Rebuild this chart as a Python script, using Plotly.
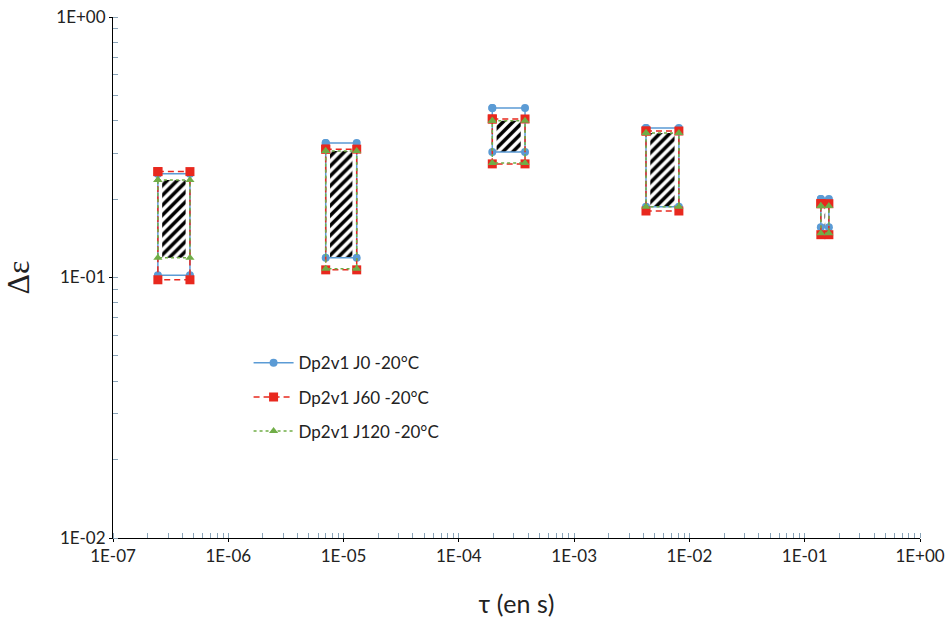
import plotly.graph_objects as go

# Relaxation time bounds (s) for the 5 groups
tau_left = [2.45e-7, 7.0e-6, 1.95e-4, 4.2e-3, 0.138]
tau_right = [4.65e-7, 1.3e-5, 3.75e-4, 8.1e-3, 0.162]

# Delta epsilon bounds per series
j0_low = [0.102, 0.119, 0.303, 0.187, 0.156]
j0_high = [0.250, 0.328, 0.447, 0.375, 0.200]
j60_low = [0.098, 0.107, 0.273, 0.180, 0.146]
j60_high = [0.255, 0.311, 0.406, 0.365, 0.192]
j120_low = [0.119, 0.108, 0.275, 0.187, 0.148]
j120_high = [0.237, 0.306, 0.400, 0.359, 0.188]

series_names = ["Dp2v1 J0 -20°C", "Dp2v1 J60 -20°C", "Dp2v1 J120 -20°C"]
x_tickvals = [1e-7, 1e-6, 1e-5, 1e-4, 1e-3, 1e-2, 1e-1, 1e0]
x_ticktext = ["1E-07", "1E-06", "1E-05", "1E-04", "1E-03", "1E-02", "1E-01", "1E+00"]
y_tickvals = [1e-2, 1e-1, 1e0]
y_ticktext = ["1E-02", "1E-01", "1E+00"]


def rect_path(xl, xr, lo, hi):
    xs, ys = [], []
    for a, b, l, h in zip(xl, xr, lo, hi):
        xs += [a, b, b, a, a, None]
        ys += [h, h, l, l, h, None]
    return xs, ys


fig = go.Figure()

# Hatched intersection regions
hx, hy = [], []
inset = 1.09
for i in range(len(tau_left)):
    lo = max(j0_low[i], j60_low[i], j120_low[i])
    hi = min(j0_high[i], j60_high[i], j120_high[i])
    a = tau_left[i] * inset
    b = tau_right[i] / inset
    hx += [a, b, b, a, a, None]
    hy += [hi, hi, lo, lo, hi, None]
fig.add_trace(go.Scatter(
    x=hx, y=hy, mode="lines", fill="toself", line=dict(width=0, color="rgba(0,0,0,0)"),
    fillcolor="white",
    fillpattern=dict(shape="/", fgcolor="black", bgcolor="white", fgopacity=1,
                     size=7, solidity=0.5),
    showlegend=False, hoverinfo="skip"))

styles = [
    dict(color="#5B9BD5", dash="solid", symbol="circle", size=8),
    dict(color="#E8281E", dash="6px,4px", symbol="square", size=9),
    dict(color="#70AD47", dash="3px,3px", symbol="triangle-up", size=8),
]
data = [(j0_low, j0_high), (j60_low, j60_high), (j120_low, j120_high)]
for k, (name, (lo, hi), st) in enumerate(zip(series_names, data, styles)):
    xs, ys = rect_path(tau_left, tau_right, lo, hi)
    fig.add_trace(go.Scatter(
        x=xs, y=ys, mode="lines+markers", name=name, legendgroup=f"g{k}",
        line=dict(color=st["color"], width=1.5, dash=st["dash"]),
        marker=dict(color=st["color"], symbol=st["symbol"], size=st["size"]),
        connectgaps=False))

fig.update_layout(
    width=949, height=622,
    margin=dict(l=113, r=29, t=17, b=84),
    paper_bgcolor="white", plot_bgcolor="white",
    font=dict(family="Lato, Open Sans, sans-serif", size=17, color="#222"),
    legend=dict(x=0.168, y=0.37, xanchor="left", yanchor="top",
                bgcolor="rgba(255,255,255,0)", font=dict(size=17, color="#222"),
                tracegroupgap=9, itemwidth=40),
)
fig.update_xaxes(
    type="log", range=[-7, 0], showgrid=False, zeroline=False, automargin=False,
    showline=True, linecolor="black", linewidth=1, ticklabeloverflow="allow",
    tickmode="array", tickvals=x_tickvals, ticktext=x_ticktext,
    ticks="outside", ticklen=3, tickcolor="black",
    tickfont=dict(size=17),
    minor=dict(ticks="inside", ticklen=5, tickcolor="#8aa4b8", dtick="D1", showgrid=False),
    title=dict(text="τ (en s)", font=dict(size=25, family="Lato, sans-serif"), standoff=30),
)
fig.update_yaxes(
    type="log", range=[-2, 0], showgrid=False, zeroline=False, automargin=False,
    showline=True, linecolor="black", linewidth=1, ticklabeloverflow="allow",
    tickmode="array", tickvals=y_tickvals, ticktext=y_ticktext,
    ticks="outside", ticklen=3, tickcolor="black",
    tickfont=dict(size=17),
    minor=dict(ticks="inside", ticklen=5, tickcolor="#8aa4b8", dtick="D1", showgrid=False),
    title=dict(text="Δε", font=dict(size=32, family="Liberation Serif, serif"), standoff=18),
)

fig.write_html("out.html", config={"displayModeBar": False},
               post_script="document.body.style.margin='0';document.body.style.overflow='hidden';")
